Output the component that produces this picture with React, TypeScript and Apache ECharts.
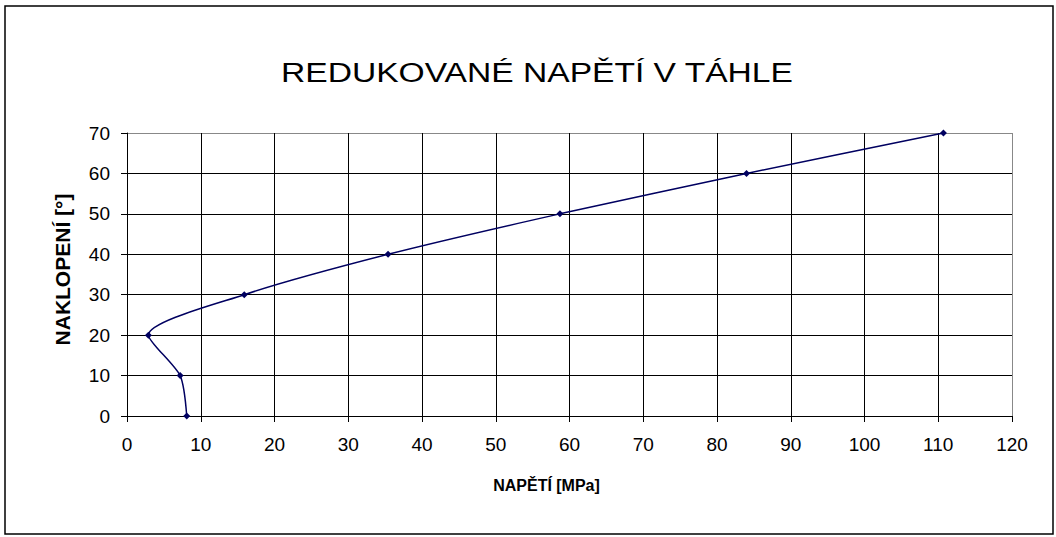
import React, { useEffect, useRef } from "react";
import * as echarts from "echarts";

const titleText = "REDUKOVANÉ NAPĚTÍ V TÁHLE";
const xAxisName = "NAPĚTÍ [MPa]";
const yAxisName = "NAKLOPENÍ [°]";
const stressMPa = [8.1, 7.2, 2.9, 15.9, 35.4, 58.7, 84.0, 110.7];
const tiltDeg = [0, 10, 20, 30, 40, 50, 60, 70];

const FONT = "'Liberation Sans', Arial, sans-serif";

export default function App() {
  const ref = useRef<HTMLDivElement>(null);
  useEffect(() => {
    document.body.style.margin = "0";
    if (!ref.current) return;
    const chart = echarts.init(ref.current, undefined, { renderer: "svg" });
    const xSplitColors = Array.from({ length: 13 }, (_, i) => (i === 12 ? "#888" : "#000"));
    const ySplitColors = Array.from({ length: 8 }, (_, i) => (i === 7 ? "#888" : "#000"));
    chart.setOption({
      animation: false,
      backgroundColor: "#fff",
      graphic: [
        {
          type: "rect",
          shape: { x: 5, y: 6, width: 1048, height: 528 },
          style: { fill: "none", stroke: "#000", lineWidth: 1.5 },
          silent: true,
        },
        {
          type: "text",
          x: 537,
          y: 72,
          scaleX: 1.2,
          style: {
            text: titleText,
            fontSize: 28,
            fontFamily: FONT,
            fill: "#000",
            textAlign: "center",
            textVerticalAlign: "middle",
          },
        },
      ],
      grid: { left: 127, right: 44, top: 133, bottom: 121, containLabel: false },
      xAxis: {
        type: "value",
        min: 0,
        max: 120,
        interval: 10,
        name: xAxisName,
        nameLocation: "middle",
        nameGap: 61,
        nameTextStyle: {
          fontSize: 16,
          fontWeight: "bold",
          fontFamily: FONT,
          color: "#000",
          padding: [0, 46, 0, 0],
        },
        axisLine: { show: true, onZero: false, lineStyle: { color: "#000", width: 1 } },
        axisTick: { show: true, inside: false, length: 6, lineStyle: { color: "#000" } },
        axisLabel: { fontSize: 19, fontFamily: FONT, color: "#000", margin: 19 },
        splitLine: { show: true, lineStyle: { color: xSplitColors, width: 1 } },
      },
      yAxis: {
        type: "value",
        min: 0,
        max: 70,
        interval: 10,
        name: yAxisName,
        nameLocation: "middle",
        nameGap: 54,
        nameRotate: 90,
        nameTextStyle: {
          fontSize: 21,
          fontWeight: "bold",
          fontFamily: FONT,
          color: "#000",
          padding: [0, 0, 0, 10],
        },
        axisLine: { show: true, onZero: false, lineStyle: { color: "#000", width: 1 } },
        axisTick: { show: true, inside: false, length: 6, lineStyle: { color: "#000" } },
        axisLabel: { fontSize: 19, fontFamily: FONT, color: "#000", margin: 17 },
        splitLine: { show: true, lineStyle: { color: ySplitColors, width: 1 } },
      },
      series: [
        {
          type: "line",
          data: stressMPa.map((x, i) => [x, tiltDeg[i]]),
          smooth: 0.25,
          symbol: "diamond",
          symbolSize: 7,
          lineStyle: { color: "#000060", width: 1.5 },
          itemStyle: { color: "#000060" },
          z: 5,
        },
      ],
    });
    return () => chart.dispose();
  }, []);
  return <div ref={ref} style={{ width: 1056, height: 537 }} />;
}
